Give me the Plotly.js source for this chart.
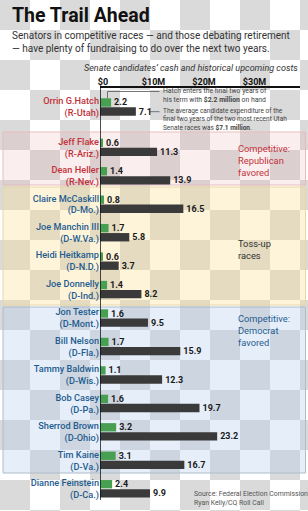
<!DOCTYPE html>
<html>
<head>
<meta charset="utf-8">
<script src="https://cdn.plot.ly/plotly-3.0.1.min.js"></script>
<style>html,body{margin:0;padding:0;background:#fff;}#chart{width:308px;height:511px;}</style>
</head>
<body>
<div id="chart"></div>
<script>
// ---- data ----
const senators = ['Orrin G.Hatch','Jeff Flake','Dean Heller','Claire McCaskill','Joe Manchin III','Heidi Heitkamp','Joe Donnelly','Jon Tester','Bill Nelson','Tammy Baldwin','Bob Casey','Sherrod Brown','Tim Kaine','Dianne Feinstein'];
const states = ['(R-Utah)','(R-Ariz.)','(R-Nev.)','(D-Mo.)','(D-W.Va.)','(D-N.D.)','(D-Ind.)','(D-Mont.)','(D-Fla.)','(D-Wis.)','(D-Pa.)','(D-Ohio)','(D-Va.)','(D-Ca.)'];
const parties = ['R','R','R','D','D','D','D','D','D','D','D','D','D','D'];
const cashOnHand = [2.2,0.6,1.4,0.8,1.7,0.6,1.4,1.6,1.7,1.1,1.6,3.2,3.1,2.4];
const historicalCost = [7.1,11.3,13.9,16.5,5.8,3.7,8.2,9.5,15.9,12.3,19.7,23.2,16.7,9.9];
const xTickVals = [0,10,20,30];
const xTickText = ['$0','$10M','$20M','$30M'];
const groupLabels = ['Competitive:<br>Republican<br>favored','Toss-up<br>races','Competitive:<br>Democrat<br>favored'];

// ---- styling helpers ----
const FONT = 'Roboto, "Open Sans", sans-serif';
const RED = '#c2323a', BLUE = '#1f5c8f', GREEN = '#47a052', DARK = '#3a3a3a';
const W = 308, H = 511, ML = 100, MR = 8, MT = 86, MB = 8;
const PW = W - ML - MR, PH = H - MT - MB;
const px2x = p => (p - ML) / PW;
const px2y = p => (H - MB - p) / PH;

const partyColor = p => p === 'R' ? RED : BLUE;
const tickText = senators.map((s, i) => `<span style="color:${partyColor(parties[i])}">${s}<br>${states[i]}</span>`);

function barTrace(idx, vals, color, yax) {
  return {
    type: 'bar', orientation: 'h',
    y: idx.map(i => senators[i]), x: idx.map(i => vals[i]),
    yaxis: yax, xaxis: 'x',
    marker: {color: color},
    text: idx.map(i => vals[i].toFixed(1)), textposition: 'outside',
    textfont: {family: FONT, size: 9, color: '#1a1a1a', weight: 'bold'},
    constraintext: 'none', cliponaxis: false, hoverinfo: 'skip', showlegend: false
  };
}
const hatchIdx = [0];
const restIdx = senators.map((_, i) => i).slice(1);
const data = [
  barTrace(restIdx, cashOnHand, GREEN, 'y'),
  barTrace(restIdx, historicalCost, DARK, 'y'),
  barTrace(hatchIdx, cashOnHand, GREEN, 'y2'),
  barTrace(hatchIdx, historicalCost, DARK, 'y2')
];

// checkerboard backdrop
const shapes = [];
const SQ = 30;
for (let r = 0; r * SQ < H; r++) {
  for (let c = 0; c * SQ < W; c++) {
    if ((r + c) % 2 === 0) {
      shapes.push({type: 'rect', xref: 'paper', yref: 'paper', layer: 'below',
        x0: px2x(c * SQ), x1: px2x(Math.min((c + 1) * SQ, W)),
        y0: px2y(Math.min((r + 1) * SQ, H)), y1: px2y(r * SQ),
        line: {width: 0}, fillcolor: '#dadada'});
    }
  }
}
// group bands
const bands = [
  {y0: 132, y1: 185, fill: 'rgba(232,150,150,0.16)', line: '#e9bcbc'},
  {y0: 187, y1: 305, fill: 'rgba(250,222,140,0.32)', line: '#e6d7a6'},
  {y0: 307, y1: 473, fill: 'rgba(175,203,236,0.32)', line: '#aebccb'}
];
bands.forEach(b => shapes.push({type: 'rect', xref: 'paper', yref: 'paper', layer: 'below',
  x0: px2x(3), x1: px2x(305.5), y0: px2y(b.y1), y1: px2y(b.y0),
  fillcolor: b.fill, line: {color: b.line, width: 1}}));
// vertical zero axis line
shapes.push({type: 'line', xref: 'x', yref: 'paper', x0: 0, x1: 0, y0: px2y(500), y1: 1,
  line: {color: '#111', width: 1.5}});
// hatch callout lines
shapes.push({type: 'line', xref: 'paper', yref: 'paper', x0: px2x(107.5), x1: px2x(107.5), y0: px2y(98), y1: px2y(91.5), line: {color: '#555', width: 0.8}});
shapes.push({type: 'line', xref: 'paper', yref: 'paper', x0: px2x(107.5), x1: px2x(159.5), y0: px2y(91.5), y1: px2y(91.5), line: {color: '#555', width: 0.8}});
shapes.push({type: 'line', xref: 'paper', yref: 'paper', x0: px2x(150), x1: px2x(159.5), y0: px2y(111.7), y1: px2y(111.7), line: {color: '#555', width: 0.8}});

const ann = (text, x, y, opts) => Object.assign({text: text, xref: 'paper', yref: 'paper', x: px2x(x), y: px2y(y),
  showarrow: false, xanchor: 'left', yanchor: 'middle', align: 'left', font: {family: FONT, size: 10, color: '#333'}}, opts || {});

const annotations = [
  ann('<b>The Trail Ahead</b>', 10, 15.5, {font: {family: FONT, size: 19.5, color: '#111'}}),
  ann('Senators in competitive races — and those debating retirement<br>— have plenty of fundraising to do over the next two years.', 9.5, 41.7, {font: {family: FONT, size: 10, color: '#333'}}),
  ann('<i>Senate candidates’ cash and historical upcoming costs</i>', 300, 68, {xanchor: 'right', font: {family: FONT, size: 9, color: '#333'}}),
  ann(groupLabels[0], 235.5, 160.8, {font: {family: FONT, size: 9.3, color: RED}}),
  ann(groupLabels[1], 235.5, 249, {font: {family: FONT, size: 9.3, color: '#333'}}),
  ann(groupLabels[2], 235.5, 330.5, {font: {family: FONT, size: 9.3, color: BLUE}}),
  ann('Hatch enters the final two years of<br>his term with <b>$2.2 million</b> on hand', 161, 95.5, {font: {family: FONT, size: 6.8, color: '#444'}}),
  ann('The average candidate expenditure of the<br>final two years of the two most recent Utah<br>Senate races was <b>$7.1 million</b>.', 161, 119.8, {font: {family: FONT, size: 6.5, color: '#444'}}),
  ann('Source: Federal Election Commission<br>Ryan Kelly/CQ Roll Call', 192, 498.3, {font: {family: FONT, size: 6.9, color: '#555'}})
];

const yCommon = {
  type: 'category', autorange: 'reversed', tickmode: 'array',
  showgrid: false, zeroline: false, showline: false, ticks: '',
  tickfont: {family: FONT, size: 9.2, weight: 500}, fixedrange: true, anchor: 'x'
};

const layout = {
  width: W, height: H,
  margin: {l: ML, r: MR, t: MT, b: MB, pad: 0},
  paper_bgcolor: '#ffffff', plot_bgcolor: 'rgba(0,0,0,0)',
  barmode: 'group', bargap: 0.36, bargroupgap: 0.08,
  showlegend: false,
  xaxis: {side: 'top', anchor: 'free', position: 1, range: [0, 39.6], tickmode: 'array', tickvals: xTickVals, ticktext: xTickText,
    showline: true, linecolor: '#111', linewidth: 1.5, ticks: '', showgrid: false, zeroline: false,
    ticklabelstandoff: -3, ticklabelshift: 3,
    tickfont: {family: FONT, size: 9, color: '#111', weight: 'bold'}, fixedrange: true},
  yaxis: Object.assign({}, yCommon, {domain: [0, 0.887], categoryarray: restIdx.map(i => senators[i]),
    tickvals: restIdx.map(i => senators[i]), ticktext: restIdx.map(i => tickText[i])}),
  yaxis2: Object.assign({}, yCommon, {domain: [0.9156, 0.9837], categoryarray: [senators[0]],
    tickvals: [senators[0]], ticktext: [tickText[0]]}),
  shapes: shapes, annotations: annotations
};

Plotly.newPlot('chart', data, layout, {displayModeBar: false, staticPlot: true});
</script>
</body>
</html>
